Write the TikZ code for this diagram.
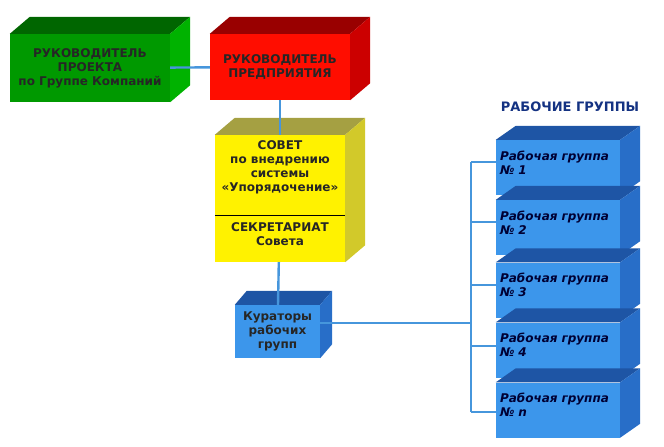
\documentclass[tikz,border=0pt]{standalone}
\usepackage{fontspec}
\setmainfont{DejaVu Sans}
\definecolor{linkblue}{RGB}{70,150,220}
\definecolor{titleblue}{RGB}{20,50,130}
\definecolor{boxblue}{RGB}{60,150,235}
\definecolor{topblue}{RGB}{30,85,165}
\definecolor{sideblue}{RGB}{40,110,200}
\newcommand{\sides}[5]{%
  \fill[#2] (#1.north west) -- ++(#4,-#5) -- ([shift={(#4,-#5)}]#1.north east) -- (#1.north east) -- cycle;
  \fill[#3] (#1.north east) -- ++(#4,-#5) -- ([shift={(#4,-#5)}]#1.south east) -- (#1.south east) -- cycle;}
\begin{document}
\begin{tikzpicture}[x=1pt, y=-1pt,
    box/.style={inner sep=0, align=center, font=\bfseries\fontsize{12}{14}\selectfont, text=black!85},
    group/.style={box, fill=boxblue, minimum width=124pt, minimum height=55pt,
      align=left, text width=116pt, font=\bfseries\itshape\fontsize{12}{14}\selectfont, text=black!80!blue},
    link/.style={draw=linkblue, line width=2.4pt}]
    \useasboundingbox (0,0) rectangle (664,447);
    \node[box, fill=green!60!black, minimum width=160pt, minimum height=68pt] (chief) at (90,68) {РУКОВОДИТЕЛЬ\\ПРОЕКТА\\по Группе Компаний};
    \sides{chief}{green!40!black}{green!70!black}{20}{17}
    \node[box, fill=red!90!orange, minimum width=140pt, minimum height=66pt] (head) at (280,67) {РУКОВОДИТЕЛЬ\\ПРЕДПРИЯТИЯ};
    \sides{head}{red!60!black}{red!80!black}{20}{17}
    \node[box, fill=yellow, minimum width=130pt, minimum height=127pt] (council) at (280,198.5) {};
    \sides{council}{yellow!60!black}{yellow!80!black}{20}{17}
    \node[box, anchor=north] (counciltext) at (280,140) {СОВЕТ\\по внедрению\\системы\\«Упорядочение»};
    \draw[line width=1pt] (215,215) -- (345,215);
    \node[box, anchor=north] (secretariat) at (280,222) {СЕКРЕТАРИАТ\\Совета};
    \node[box, fill=boxblue, minimum width=85pt, minimum height=53pt] (curators) at (277.5,331.5) {Кураторы\\рабочих\\групп};
    \sides{curators}{topblue}{sideblue}{12}{14}
    \node[font=\bfseries\fontsize{13}{15}\selectfont, text=titleblue] (title) at (570,107) {РАБОЧИЕ ГРУППЫ};
    \coordinate (bus top) at (471,162);
    \coordinate (bus bottom) at (471,412);
    \coordinate (bus mid) at (471,323);
    \foreach \i/\y/\t/\s in {1/167.5/1/162, 2/227.5/2/222, 3/290/3/285, 4/350/4/346, 5/410/n/412}{
      \node[group] (wg\i) at (558,\y) {Рабочая группа\\№ \t\\[-4pt]~};
      \sides{wg\i}{topblue}{sideblue}{20}{14}
      \draw[link] (471,\s) -- (wg\i.west |- 0,\s);
    }
    \draw[link] (chief) -- (head);
    \draw[link] (head) -- (council);
    \draw[link] (council) -- (curators);
    \draw[link] (curators.east |- bus mid) -- (bus mid);
    \draw[link] (bus top) -- (bus bottom);
\end{tikzpicture}
\end{document}
